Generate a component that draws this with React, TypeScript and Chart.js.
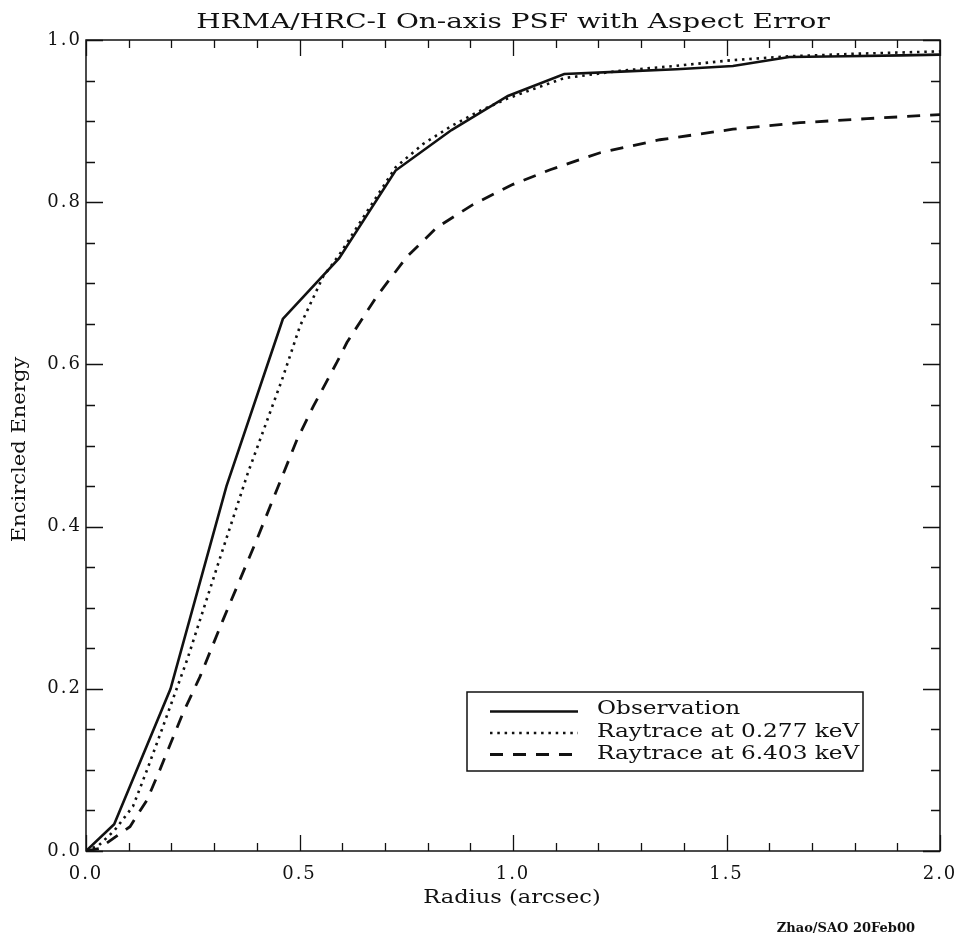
import React, { useEffect, useRef } from "react";
import { Chart, registerables } from "chart.js";

Chart.register(...registerables);

// ---------- text ----------
const chartTitle = "HRMA/HRC-I On-axis PSF with Aspect Error";
const xAxisTitle = "Radius (arcsec)";
const yAxisTitle = "Encircled Energy";
const footnote = "Zhao/SAO 20Feb00";
const seriesNames = ["Observation", "Raytrace at 0.277 keV", "Raytrace at 6.403 keV"];

// ---------- data (radius in arcsec, encircled energy fraction) ----------
const obsX = [0, 0.066, 0.198, 0.329, 0.461, 0.593, 0.725, 0.856, 0.988, 1.12, 1.252, 1.383, 1.515, 1.647, 1.779, 1.91, 2.0];
const obsY = [0, 0.033, 0.2, 0.45, 0.656, 0.731, 0.839, 0.889, 0.931, 0.958, 0.961, 0.964, 0.968, 0.979, 0.98, 0.981, 0.982];

const softX = [0, 0.03, 0.066, 0.11, 0.143, 0.18, 0.237, 0.318, 0.379, 0.459, 0.501, 0.555, 0.593, 0.66, 0.725, 0.79, 0.856, 0.92, 0.988, 1.05, 1.12, 1.25, 1.38, 1.51, 1.65, 1.8, 2.0];
const softY = [0, 0.007, 0.025, 0.055, 0.1, 0.153, 0.236, 0.368, 0.466, 0.581, 0.647, 0.708, 0.735, 0.79, 0.843, 0.872, 0.894, 0.912, 0.928, 0.94, 0.953, 0.962, 0.968, 0.975, 0.98, 0.983, 0.986];

const hardX = [0, 0.03, 0.06, 0.103, 0.143, 0.173, 0.227, 0.267, 0.321, 0.4, 0.494, 0.532, 0.588, 0.611, 0.681, 0.752, 0.822, 0.906, 1.0, 1.087, 1.204, 1.344, 1.515, 1.672, 1.829, 2.0];
const hardY = [0, 0.003, 0.014, 0.03, 0.063, 0.1, 0.17, 0.215, 0.285, 0.384, 0.507, 0.548, 0.603, 0.627, 0.684, 0.733, 0.769, 0.797, 0.822, 0.84, 0.861, 0.877, 0.89, 0.898, 0.903, 0.908];

// ---------- axes ----------
const xMin = 0, xMax = 2, xMajorStep = 0.5, xMinorStep = 0.1;
const yMin = 0, yMax = 1, yMajorStep = 0.2, yMinorStep = 0.05;

const INK = "#111";
const SERIF = "'DejaVu Serif', serif";
const dashStyles: number[][] = [[], [2.5, 4.8], [13, 10]];

const toPoints = (xs: number[], ys: number[]) => xs.map((x, i) => ({ x, y: ys[i] }));

function drawText(
  ctx: CanvasRenderingContext2D,
  s: string,
  x: number,
  y: number,
  font: string,
  hscale: number,
  align: CanvasTextAlign,
  rotate = 0
) {
  ctx.save();
  (ctx as any).letterSpacing = "0px";
  ctx.font = font;
  ctx.fillStyle = INK;
  ctx.textBaseline = "alphabetic";
  ctx.textAlign = align;
  ctx.translate(x, y);
  if (rotate) ctx.rotate(rotate);
  ctx.scale(hscale, 1);
  ctx.fillText(s, 0, 0);
  ctx.restore();
}

const decorPlugin = {
  id: "decor",
  beforeDraw(chart: any) {
    const ctx = chart.ctx as CanvasRenderingContext2D;
    ctx.save();
    ctx.fillStyle = "#fff";
    ctx.fillRect(0, 0, chart.width, chart.height);
    ctx.restore();
    (ctx as any).letterSpacing = "2px";
  },
  afterDatasetsDraw(chart: any) {
    const ctx = chart.ctx as CanvasRenderingContext2D;
    const { left, right, top, bottom } = chart.chartArea;
    const xs = chart.scales.x;
    const ys = chart.scales.y;
    ctx.save();
    ctx.strokeStyle = INK;
    ctx.lineWidth = 1.5;
    ctx.strokeRect(left, top, right - left, bottom - top);
    ctx.lineWidth = 1.3;
    ctx.beginPath();
    for (let i = 0; xMin + i * xMinorStep <= xMax + 1e-9; i++) {
      const v = xMin + i * xMinorStep;
      const major = Math.abs(v / xMajorStep - Math.round(v / xMajorStep)) < 1e-6;
      const len = major ? 16 : 8;
      const px = Math.round(xs.getPixelForValue(v)) + 0.5;
      ctx.moveTo(px, bottom);
      ctx.lineTo(px, bottom - len);
      ctx.moveTo(px, top);
      ctx.lineTo(px, top + len);
    }
    for (let i = 0; yMin + i * yMinorStep <= yMax + 1e-9; i++) {
      const v = yMin + i * yMinorStep;
      const major = Math.abs(v / yMajorStep - Math.round(v / yMajorStep)) < 1e-6;
      const len = major ? 17 : 9;
      const py = Math.round(ys.getPixelForValue(v)) + 0.5;
      ctx.moveTo(left, py);
      ctx.lineTo(left + len, py);
      ctx.moveTo(right, py);
      ctx.lineTo(right - len, py);
    }
    ctx.stroke();
    ctx.restore();
  },
  afterDraw(chart: any) {
    const ctx = chart.ctx as CanvasRenderingContext2D;
    const { left, right, top, bottom } = chart.chartArea;
    const cx = (left + right) / 2;
    const cy = (top + bottom) / 2;

    drawText(ctx, chartTitle, cx, top - 12, `21px ${SERIF}`, 1.33, "center");
    drawText(ctx, xAxisTitle, cx - 1, bottom + 52, `18px ${SERIF}`, 1.25, "center");
    drawText(ctx, yAxisTitle, left - 61, cy + 4, `18px ${SERIF}`, 1.17, "center", -Math.PI / 2);
    drawText(ctx, footnote, right - 25, bottom + 81, `bold 13px ${SERIF}`, 1, "right");

    // legend box
    const bx = right - 473;
    const by = bottom - 159;
    const bw = 396;
    const bh = 79;
    ctx.save();
    ctx.fillStyle = "#fff";
    ctx.fillRect(bx, by, bw, bh);
    ctx.strokeStyle = INK;
    ctx.lineWidth = 1.5;
    ctx.strokeRect(bx, by, bw, bh);
    ctx.restore();
    const datasets = chart.data.datasets;
    datasets.forEach((ds: any, i: number) => {
      const ly = by + 19.5 + i * 21.5;
      ctx.save();
      ctx.strokeStyle = ds.borderColor;
      ctx.lineWidth = ds.borderWidth;
      ctx.setLineDash(ds.borderDash || []);
      ctx.beginPath();
      ctx.moveTo(bx + 23, ly);
      ctx.lineTo(bx + 111, ly);
      ctx.stroke();
      ctx.restore();
      drawText(ctx, ds.label, bx + 130, by + 22 + i * 22.5, `18px ${SERIF}`, 1.29, "left");
    });
  },
};

export default function App() {
  const ref = useRef<HTMLCanvasElement | null>(null);

  useEffect(() => {
    if (!ref.current) return;
    const series = [toPoints(obsX, obsY), toPoints(softX, softY), toPoints(hardX, hardY)];
    const chart = new Chart(ref.current, {
      type: "line",
      data: {
        datasets: series.map((pts, i) => ({
          label: seriesNames[i],
          data: pts,
          borderColor: INK,
          backgroundColor: INK,
          borderWidth: i === 2 ? 2.8 : 2.6,
          borderDash: dashStyles[i],
          pointRadius: 0,
          tension: 0,
          fill: false,
        })),
      },
      options: {
        responsive: false,
        animation: false,
        devicePixelRatio: 1,
        layout: { padding: { top: 40, right: 20, left: 0, bottom: 0 } },
        plugins: {
          legend: { display: false },
          title: { display: false },
          tooltip: { enabled: false },
        },
        scales: {
          x: {
            type: "linear",
            min: xMin,
            max: xMax,
            grid: { display: false, drawTicks: false },
            border: { display: false },
            ticks: {
              stepSize: xMajorStep,
              maxRotation: 0,
              autoSkip: false,
              padding: 13,
              color: INK,
              font: { family: SERIF, size: 18 },
              callback: (v: any) => Number(v).toFixed(1),
            },
            afterFit: (s: any) => {
              s.height = 88;
              s.paddingLeft = 0;
              s.paddingRight = 0;
            },
          },
          y: {
            type: "linear",
            min: yMin,
            max: yMax,
            grid: { display: false, drawTicks: false },
            border: { display: false },
            ticks: {
              stepSize: yMajorStep,
              autoSkip: false,
              padding: 4,
              color: INK,
              font: { family: SERIF, size: 18 },
              callback: (v: any) => Number(v).toFixed(1),
            },
            afterFit: (s: any) => {
              s.width = 86;
              s.paddingTop = 0;
              s.paddingBottom = 0;
            },
          },
        },
      },
      plugins: [decorPlugin],
    });
    return () => chart.destroy();
  }, []);

  return (
    <div style={{ position: "fixed", left: 0, top: 0, width: 960, height: 939, background: "#fff" }}>
      <canvas ref={ref} width={960} height={939} style={{ width: 960, height: 939, display: "block" }} />
    </div>
  );
}
